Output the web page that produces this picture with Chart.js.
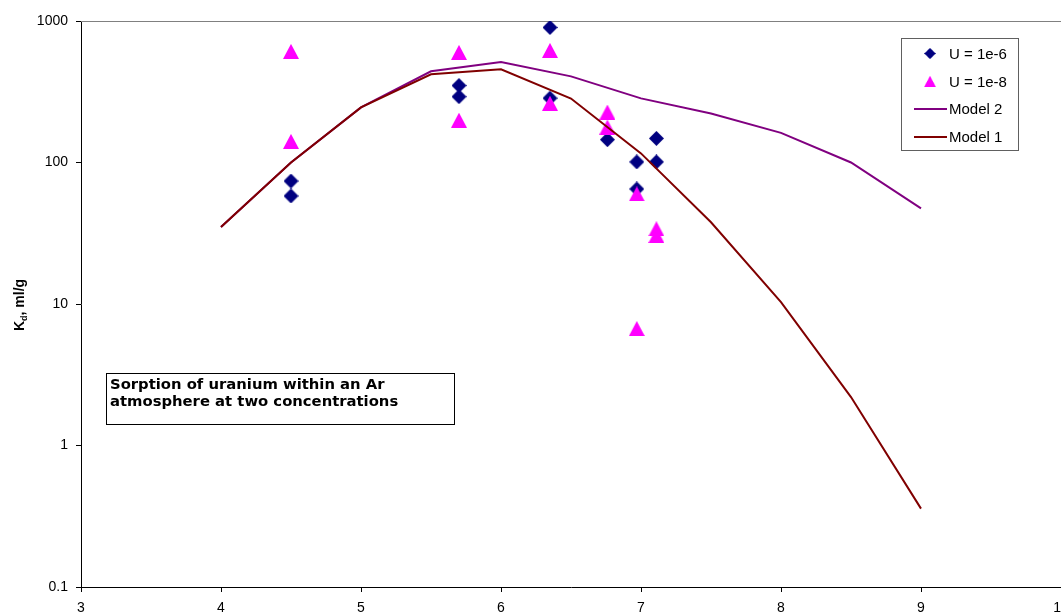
<!DOCTYPE html>
<html>
<head>
<meta charset="utf-8">
<script src="https://cdn.jsdelivr.net/npm/chart.js@4.4.1/dist/chart.umd.min.js"></script>
<style>
  html, body { margin: 0; padding: 0; background: #fff; overflow: hidden; }
  #wrap { position: absolute; left: 0; top: 0; width: 1100px; height: 627px; }
</style>
</head>
<body>
<div id="wrap"><canvas id="c" width="1100" height="627"></canvas></div>
<script>
// ---- Data ----
const u6X = [4.5, 4.5, 5.7, 5.7, 6.35, 6.35, 6.76, 6.97, 6.97, 7.11, 7.11];
const u6Y = [74, 58, 350, 292, 900, 285, 145, 101, 65, 148, 101];

const u8X = [4.5, 4.5, 5.7, 5.7, 6.35, 6.35, 6.76, 6.76, 6.97, 6.97, 7.11, 7.11];
const u8Y = [610, 141, 600, 199, 620, 262, 227, 178, 60, 6.7, 34, 30.5];

const modelX = [4, 4.5, 5, 5.5, 6, 6.5, 7, 7.5, 8, 8.5, 9];
const model2Y = [35, 100, 245, 441, 513, 406, 284, 222, 162, 100, 47.4];
const model1Y = [35, 100, 245, 420, 456, 283, 116, 37.8, 10.3, 2.2, 0.358];

const yTickValues = [0.1, 1, 10, 100, 1000];
const yTickLabels = ['0.1', '1', '10', '100', '1000'];
const xTickLabels = ['3', '4', '5', '6', '7', '8', '9', '10'];

const seriesNames = ['U = 1e-6', 'U = 1e-8', 'Model 2', 'Model 1'];
const boxText = ['Sorption of uranium within an Ar', 'atmosphere at two concentrations'];

// ---- Marker images ----
function diamondImg(color) {
  const c = document.createElement('canvas');
  c.width = 15; c.height = 15;
  const g = c.getContext('2d');
  g.fillStyle = color;
  g.beginPath();
  g.moveTo(7.5, 0); g.lineTo(15, 7.5); g.lineTo(7.5, 15); g.lineTo(0, 7.5);
  g.closePath(); g.fill();
  return c;
}
function triangleImg(color) {
  const c = document.createElement('canvas');
  c.width = 16; c.height = 15;
  const g = c.getContext('2d');
  g.fillStyle = color;
  g.beginPath();
  g.moveTo(8, 0); g.lineTo(16, 15); g.lineTo(0, 15);
  g.closePath(); g.fill();
  return c;
}
const navy = '#000080', magenta = '#FF00FF', purple = '#800080', darkred = '#800000';
const diamond = diamondImg(navy);
const triangle = triangleImg(magenta);

const zip = (xs, ys) => xs.map((x, i) => ({ x: x, y: ys[i] }));

const bgPlugin = {
  id: 'frame',
  beforeDatasetsDraw(chart) {
    const { ctx, chartArea: a } = chart;
    ctx.save();
    ctx.strokeStyle = '#808080';
    ctx.lineWidth = 1;
    ctx.beginPath();
    ctx.moveTo(a.left, Math.round(a.top) + 0.5);
    ctx.lineTo(a.right, Math.round(a.top) + 0.5);
    ctx.stroke();
    ctx.restore();
  },
  afterDraw(chart) {
    const ctx = chart.ctx;
    ctx.save();
    // Y axis title with subscript
    ctx.translate(19, 305);
    ctx.rotate(-Math.PI / 2);
    ctx.fillStyle = '#000';
    ctx.textBaseline = 'alphabetic';
    const big = 'bold 14px "Liberation Sans", Arial, sans-serif';
    const small = 'bold 9px "Liberation Sans", Arial, sans-serif';
    ctx.font = big; const wK = ctx.measureText('K').width;
    ctx.font = small; const wd = ctx.measureText('d').width;
    ctx.font = big; const wRest = ctx.measureText(', ml/g').width;
    let x0 = -(wK + wd + wRest) / 2;
    const base = 5;
    ctx.font = big; ctx.fillText('K', x0, base); x0 += wK;
    ctx.font = small; ctx.fillText('d', x0, base + 3); x0 += wd;
    ctx.font = big; ctx.fillText(', ml/g', x0, base);
    ctx.restore();

    // Text box
    ctx.save();
    ctx.fillStyle = '#fff';
    ctx.fillRect(106, 373, 348, 51);
    ctx.strokeStyle = '#000';
    ctx.lineWidth = 1;
    ctx.strokeRect(106.5, 373.5, 348, 51);
    ctx.fillStyle = '#000';
    ctx.font = 'bold 14.8px "DejaVu Sans", Verdana, sans-serif';
    ctx.textBaseline = 'alphabetic';
    ctx.fillText(boxText[0], 110, 389);
    ctx.fillText(boxText[1], 110, 406);
    ctx.restore();

    // Legend
    ctx.save();
    ctx.fillStyle = '#fff';
    ctx.fillRect(901, 38, 117, 112);
    ctx.strokeStyle = '#606060';
    ctx.lineWidth = 1;
    ctx.strokeRect(901.5, 38.5, 117, 112);
    const rows = [53.5, 81.5, 109, 137];
    ctx.font = '15px "Liberation Sans", Arial, sans-serif';
    ctx.textBaseline = 'middle';
    ctx.fillStyle = '#000';
    chart.data.datasets.forEach((ds, i) => {
      const cy = rows[i];
      if (ds.showLine) {
        ctx.strokeStyle = ds.borderColor;
        ctx.lineWidth = 2;
        ctx.beginPath();
        ctx.moveTo(914, cy); ctx.lineTo(947, cy);
        ctx.stroke();
      } else {
        const img = ds.pointStyle;
        const s = 0.75;
        ctx.drawImage(img, 930 - img.width * s / 2, cy - img.height * s / 2, img.width * s, img.height * s);
      }
      ctx.fillStyle = '#000';
      ctx.fillText(ds.label, 949, cy + 1);
    });
    ctx.restore();
  }
};

new Chart(document.getElementById('c'), {
  type: 'scatter',
  data: {
    datasets: [
      { label: seriesNames[0], data: zip(u6X, u6Y), pointStyle: diamond, pointRadius: 7, showLine: false, order: 3 },
      { label: seriesNames[1], data: zip(u8X, u8Y), pointStyle: triangle, pointRadius: 7, showLine: false, order: 2 },
      { label: seriesNames[2], data: zip(modelX, model2Y), showLine: true, borderColor: purple, backgroundColor: purple, borderWidth: 2, pointRadius: 0, tension: 0, order: 1 },
      { label: seriesNames[3], data: zip(modelX, model1Y), showLine: true, borderColor: darkred, backgroundColor: darkred, borderWidth: 2, pointRadius: 0, tension: 0, order: 0 }
    ]
  },
  options: {
    responsive: false,
    animation: false,
    events: [],
    layout: { padding: { top: 21, right: 39, left: 0, bottom: 0 } },
    plugins: { legend: { display: false }, tooltip: { enabled: false } },
    scales: {
      x: {
        type: 'linear', min: 3, max: 10,
        afterFit(s) { s.height = 40; },
        afterBuildTicks(s) { s.ticks = xTickLabels.map(v => ({ value: Number(v) })); },
        ticks: {
          color: '#000', padding: 8,
          font: { family: '"Liberation Sans", Arial, sans-serif', size: 14 },
          callback: (v, i) => xTickLabels[i]
        },
        grid: { drawOnChartArea: false, tickLength: 5, tickColor: '#000' },
        border: { color: '#000', width: 1 }
      },
      y: {
        type: 'logarithmic', min: 0.1, max: 1000,
        afterFit(s) { s.width = 81; },
        afterBuildTicks(s) { s.ticks = yTickValues.map(v => ({ value: v })); },
        ticks: {
          color: '#000', padding: 8,
          font: { family: '"Liberation Sans", Arial, sans-serif', size: 14 },
          callback: (v, i) => yTickLabels[i]
        },
        grid: { drawOnChartArea: false, tickLength: 5, tickColor: '#000' },
        border: { color: '#000', width: 1 }
      }
    }
  },
  plugins: [bgPlugin]
});
</script>
</body>
</html>
